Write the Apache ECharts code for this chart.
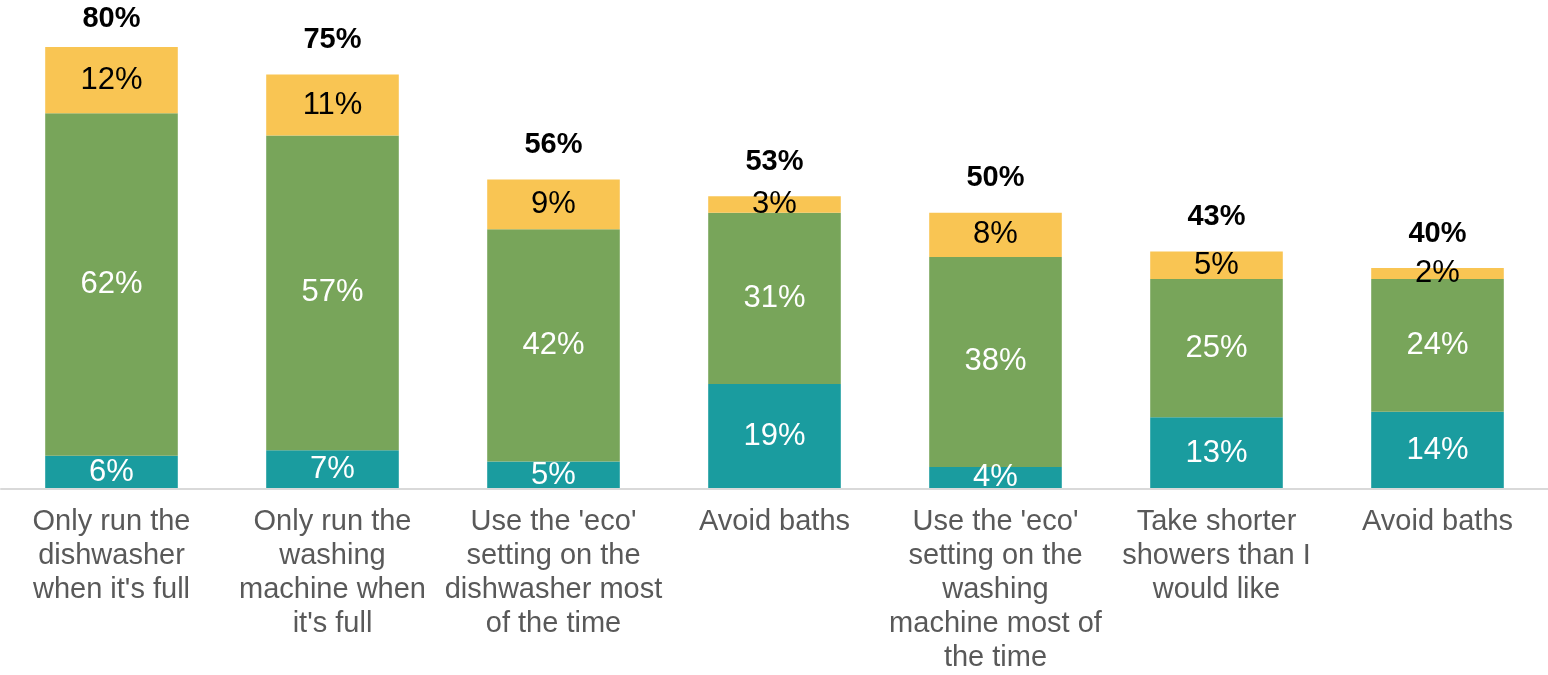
<!DOCTYPE html>
<html>
<head>
<meta charset="utf-8">
<style>
html,body{margin:0;padding:0;background:#fff;}
#chart{width:1548px;height:675px;}
</style>
<script src="https://cdn.jsdelivr.net/npm/echarts@6/dist/echarts.min.js"></script>
</head>
<body>
<div id="chart"></div>
<script>
const categories = [
  "Only run the\ndishwasher\nwhen it's full",
  "Only run the\nwashing\nmachine when\nit's full",
  "Use the 'eco'\nsetting on the\ndishwasher most\nof the time",
  "Avoid baths",
  "Use the 'eco'\nsetting on the\nwashing\nmachine most of\nthe time",
  "Take shorter\nshowers than I\nwould like",
  "Avoid baths "
];
const tealValues   = [6, 7, 5, 19, 4, 13, 14];
const greenValues  = [62, 57, 42, 31, 38, 25, 24];
const yellowValues = [12, 11, 9, 3, 8, 5, 2];
const totals       = [80, 75, 56, 53, 50, 43, 40];

const FONT = "'Liberation Sans', Arial, sans-serif";
const pct = p => p.value + '%';

// the tallest total sits closer to its bar (it is at the top edge of the picture)
const totalData = totals.map((v, i) => i === 0 ? {value: v, label: {distance: 14}} : v);

const chart = echarts.init(document.getElementById('chart'));
chart.setOption({
  animation: false,
  grid: {left: 1, right: -1, top: 47, bottom: 184, containLabel: false},
  xAxis: {
    type: 'category',
    data: categories,
    z: 10,
    axisLine: {show: true, lineStyle: {color: '#D9D9D9', width: 2}},
    axisTick: {show: false},
    axisLabel: {
      interval: 0, margin: 16, color: '#595959', fontSize: 29,
      lineHeight: 34, fontFamily: FONT,
      formatter: v => v.trim()
    }
  },
  yAxis: {
    type: 'value', min: 0, max: 80, show: false,
    splitLine: {show: false}
  },
  series: [
    {
      name: 'Teal', type: 'bar', stack: 's', barWidth: '60%', data: tealValues,
      itemStyle: {color: '#1A9C9F'},
      label: {show: true, position: 'inside', color: '#fff', fontSize: 31, fontFamily: FONT, formatter: pct}
    },
    {
      name: 'Green', type: 'bar', stack: 's', barWidth: '60%', data: greenValues,
      itemStyle: {color: '#78A55A'},
      label: {show: true, position: 'inside', color: '#fff', fontSize: 31, fontFamily: FONT, formatter: pct}
    },
    {
      name: 'Yellow', type: 'bar', stack: 's', barWidth: '60%', data: yellowValues,
      itemStyle: {color: '#F9C553'},
      label: {show: true, position: 'inside', color: '#000', fontSize: 31, fontFamily: FONT, formatter: pct}
    },
    {
      name: 'Total', type: 'bar', barWidth: '60%', barGap: '-100%', data: totalData, z: 1,
      itemStyle: {color: 'rgba(0,0,0,0)'},
      label: {show: true, position: 'top', distance: 20, color: '#000', fontSize: 29, fontWeight: 'bold', fontFamily: FONT, formatter: pct}
    }
  ]
});
</script>
</body>
</html>
